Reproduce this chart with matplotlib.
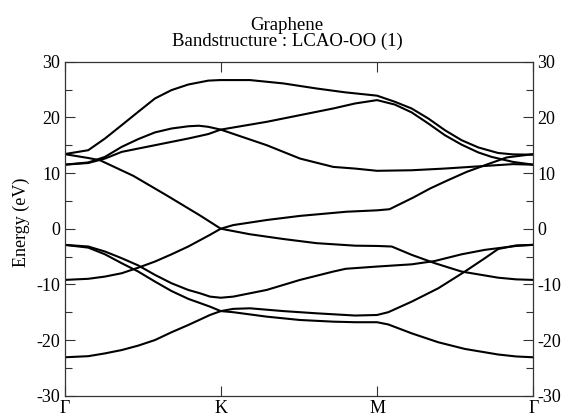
import matplotlib
matplotlib.use("Agg")
import matplotlib.pyplot as plt
from matplotlib.ticker import MultipleLocator

plt.rcParams['font.family'] = ['Liberation Serif', 'DejaVu Serif']
plt.rcParams['axes.unicode_minus'] = False

# high-symmetry path labels
kpoint_labels = ['Γ', 'K', 'M', 'Γ']
kpoint_pos = [0, 1, 2, 3]

# bands (k along path in segment units, energy in eV)
bandA_k = [0, 0.152, 0.259, 0.366, 0.472, 0.579, 0.685, 0.792, 0.931, 1.0, 1.08, 1.294, 1.507, 1.72, 1.86, 2.0, 2.072, 2.222, 2.392, 2.562, 2.69, 2.775, 2.89, 3.0]
bandA_E = [-23.1, -22.9, -22.4, -21.8, -21.0, -20.0, -18.6, -17.3, -15.5, -14.8, -15.0, -15.8, -16.4, -16.7, -16.8, -16.8, -17.2, -18.8, -20.4, -21.6, -22.2, -22.6, -22.95, -23.1]

bandB_k = [0, 0.152, 0.259, 0.366, 0.472, 0.579, 0.685, 0.792, 0.931, 1.0, 1.08, 1.187, 1.40, 1.613, 1.86, 2.0, 2.072, 2.222, 2.392, 2.562, 2.69, 2.775, 2.89, 3.0]
bandB_E = [-2.9, -3.4, -4.6, -6.2, -7.7, -9.5, -11.2, -12.6, -14.0, -14.8, -14.4, -14.3, -14.8, -15.2, -15.6, -15.5, -15.0, -13.1, -10.7, -7.7, -5.3, -3.65, -3.0, -2.9]

bandC_k = [0, 0.152, 0.259, 0.366, 0.472, 0.579, 0.685, 0.792, 0.867, 0.931, 1.0, 1.08, 1.294, 1.507, 1.72, 1.80, 2.0, 2.222, 2.37, 2.541, 2.69, 2.775, 2.89, 3.0]
bandC_E = [-2.9, -3.2, -4.1, -5.3, -6.6, -8.3, -9.8, -11.0, -11.6, -12.2, -12.4, -12.2, -11.0, -9.2, -7.7, -7.2, -6.8, -6.4, -5.8, -4.6, -3.8, -3.5, -3.1, -2.9]

bandD_k = [0, 0.152, 0.259, 0.366, 0.472, 0.579, 0.685, 0.792, 0.931, 1.0, 1.187, 1.40, 1.613, 1.86, 2.0, 2.094, 2.222, 2.37, 2.541, 2.69, 2.775, 2.89, 3.0]
bandD_E = [-9.2, -9.0, -8.6, -8.0, -7.0, -5.9, -4.6, -3.2, -1.1, 0.0, -1.0, -1.85, -2.6, -3.05, -3.1, -3.2, -4.7, -6.2, -7.7, -8.4, -8.8, -9.1, -9.2]

bandE_k = [0, 0.152, 0.227, 0.44, 0.653, 0.866, 1.0, 1.08, 1.294, 1.507, 1.805, 2.0, 2.08, 2.232, 2.338, 2.445, 2.573, 2.70, 2.83, 3.0]
bandE_E = [13.4, 12.7, 12.3, 9.5, 6.0, 2.4, 0.0, 0.65, 1.56, 2.3, 3.05, 3.3, 3.5, 5.6, 7.2, 8.6, 10.2, 11.5, 12.8, 13.4]

bandF_k = [0, 0.152, 0.259, 0.366, 0.472, 0.579, 0.685, 0.792, 0.86, 0.92, 1.0, 1.294, 1.507, 1.72, 1.86, 2.0, 2.222, 2.43, 2.65, 2.87, 3.0]
bandF_E = [11.5, 11.9, 12.9, 14.7, 16.1, 17.3, 18.0, 18.4, 18.5, 18.3, 17.8, 15.0, 12.6, 11.1, 10.8, 10.4, 10.5, 10.8, 11.2, 11.6, 11.5]

bandG_k = [0, 0.152, 0.259, 0.366, 0.472, 0.579, 0.685, 0.792, 0.92, 1.0, 1.294, 1.507, 1.72, 1.86, 2.0, 2.114, 2.221, 2.328, 2.434, 2.541, 2.648, 2.733, 2.87, 3.0]
bandG_E = [11.5, 11.8, 12.6, 13.8, 14.4, 15.0, 15.6, 16.2, 17.0, 17.8, 19.2, 20.4, 21.6, 22.5, 23.1, 22.3, 20.9, 18.9, 16.8, 15.1, 13.7, 12.9, 12.0, 11.5]

bandH_k = [0, 0.152, 0.259, 0.366, 0.472, 0.579, 0.685, 0.792, 0.92, 0.995, 1.187, 1.40, 1.61, 1.795, 2.0, 2.114, 2.221, 2.328, 2.434, 2.541, 2.648, 2.775, 2.87, 3.0]
bandH_E = [13.4, 14.1, 16.2, 18.6, 21.0, 23.4, 24.9, 25.9, 26.6, 26.7, 26.7, 26.1, 25.2, 24.5, 23.9, 22.8, 21.6, 19.8, 17.7, 15.9, 14.6, 13.6, 13.35, 13.3]

bands = [(bandA_k, bandA_E), (bandB_k, bandB_E), (bandC_k, bandC_E), (bandD_k, bandD_E),
         (bandE_k, bandE_E), (bandF_k, bandF_E), (bandG_k, bandG_E), (bandH_k, bandH_E)]

W, H = 564, 416
fig = plt.figure(figsize=(W / 100, H / 100), dpi=100)
ax = fig.add_axes([64.5 / W, 1 - 395.7 / H, (533.3 - 64.5) / W, (395.7 - 61.7) / H])

for k, e in bands:
    ax.plot(k, e, color='black', lw=1.5, solid_joinstyle='round')

ax.set_xlim(0, 3)
ax.set_ylim(-30, 30)
ax.set_xticks(kpoint_pos)
ax.set_xticklabels(kpoint_labels)
ax.yaxis.set_major_locator(MultipleLocator(10))
ax.yaxis.set_minor_locator(MultipleLocator(5))
ax.tick_params(axis='both', which='both', direction='in', top=True, right=True,
               labelright=True, color='#333333', width=0.8, labelsize=13)
ax.tick_params(axis='y', which='major', length=7, pad=3)
ax.tick_params(axis='y', which='minor', length=5)
ax.tick_params(axis='x', which='major', length=7, pad=3)
for s in ax.spines.values():
    s.set_linewidth(0.9)
    s.set_color('#333333')

fig.text(21 / W, 1 - 222 / H, 'Energy (eV)', rotation=90, ha='center', va='center', fontsize=13)
fig.text(287 / W, 1 - 30 / H, 'Graphene', ha='center', va='baseline', fontsize=13.5)
fig.text(287 / W, 1 - 46 / H, 'Bandstructure : LCAO-OO (1)', ha='center', va='baseline', fontsize=13.5)

fig.savefig('out.png', dpi=100)
